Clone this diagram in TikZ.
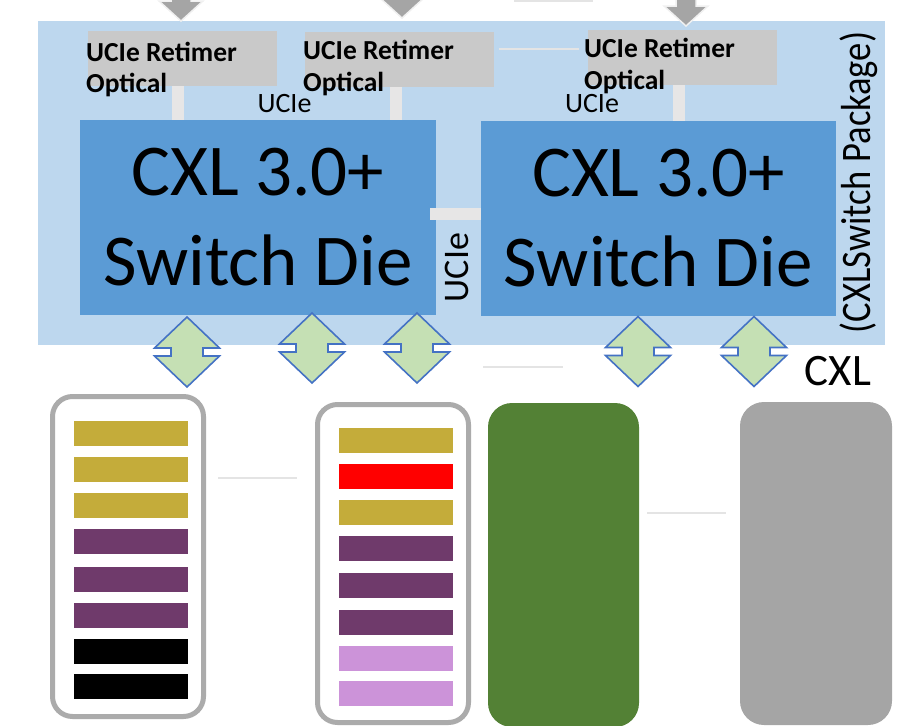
\documentclass[tikz,border=0pt]{standalone}
\usepackage{fontspec}
\usepackage{graphicx}
\setmainfont{Carlito}
\usetikzlibrary{calc}
\definecolor{pkgblue}{HTML}{BDD7EE}
\definecolor{dieblue}{HTML}{5B9BD5}
\definecolor{retgray}{HTML}{C9C9C9}
\definecolor{linkgray}{HTML}{E7E6E6}
\definecolor{arrgray}{HTML}{A5A5A5}
\definecolor{diafill}{HTML}{C5E0B4}
\definecolor{diaedge}{HTML}{4472C4}
\definecolor{gold}{HTML}{C4AC3A}
\definecolor{plum}{HTML}{6F3A6B}
\definecolor{lilac}{HTML}{CC93D9}
\definecolor{modedge}{HTML}{ABABAB}
\definecolor{leafgreen}{HTML}{538135}
\definecolor{slotgray}{HTML}{A5A5A5}
\definecolor{faintline}{HTML}{E4E4E4}
\begin{document}
\begin{tikzpicture}[x=1pt,y=-1pt,
  pkgbox/.style={fill=pkgblue, inner sep=0},
  retimer/.style={fill=retgray, inner sep=0, minimum width=189, minimum height=55},
  rtext/.style={inner sep=0, anchor=base west, font=\fontsize{27.5}{32}\selectfont\bfseries},
  die/.style={fill=dieblue, inner sep=0, minimum width=356, minimum height=195, align=center, font=\fontsize{73}{90}\selectfont},
  uconn/.style={draw=linkgray, line width=12},
  lbl/.style={inner sep=0, anchor=base, font=\fontsize{28}{32}\selectfont},
  faint/.style={draw=faintline, line width=1.5},
  bar/.style={inner sep=0, minimum width=114, minimum height=25},
  module/.style={draw=modedge, line width=5, fill=white, rounded corners=20, inner sep=0, minimum width=151},
  slab/.style={inner sep=0, rounded corners=24, minimum width=151},
  downarrow/.pic={\filldraw[fill=arrgray, draw=white!88!gray, line width=1.5]
     (-10,-45) -- (-10,-20) -- (-22,-20) -- (0,0) -- (22,-20) -- (10,-20) -- (10,-45) -- cycle;},
  updown/.pic={\filldraw[fill=diafill, draw=diaedge, line width=1.6, line join=miter]
     (0,-35) -- (32.5,-4) -- (16,-4) -- (16,4) -- (32.5,4) -- (0,35) -- (-32.5,4) -- (-16,4) -- (-16,-4) -- (-32.5,-4) -- cycle;}
]
\useasboundingbox (0,0) rectangle (919,726);
\clip (0,0) rectangle (919,726);

% package background
\node[pkgbox, minimum width=847, minimum height=324] (pkg) at (461.5,183) {};

% incoming arrows at top
\pic at (181,21) {downarrow};
\pic at (402,18) {downarrow};
\pic at (686,26) {downarrow};
\coordinate (t1a) at (514,0.8);
\coordinate (t1b) at (593,0.8);
\draw[faint] (t1a) -- (t1b);

% retimers
\node[retimer] (r1) at (182.5,58.5) {};
\node[retimer] (r2) at (399.5,59.5) {};
\node[retimer] (r3) at (682.5,57.5) {};
\coordinate (g1) at (499,49);
\coordinate (g2) at (579,49);
\draw[faint] (g1) -- (g2);

% dies
\node[die] (d1) at (258,217.5) {CXL 3.0+\\Switch Die};
\node[die, minimum width=355] (d2) at (658.5,218.5) {CXL 3.0+\\Switch Die};

% UCIe links retimer -> die
\coordinate (k1) at (178,100);
\coordinate (k2) at (396,100);
\coordinate (k3) at (679,100);
\draw[uconn] (k1 |- r1.south) -- (k1 |- d1.north);
\draw[uconn] (k2 |- r2.south) -- (k2 |- d1.north);
\draw[uconn] (k3 |- r3.south) -- (k3 |- d2.north);

% die-to-die UCIe link
\coordinate (hu) at (455,214);
\draw[uconn, shorten <=-6] (hu -| d1.east) -- (hu -| d2.west);

% retimer texts
\node[rtext] (r1a) at (86,61) {UCIe Retimer};
\node[rtext] (r1b) at (86,92.5) {Optical};
\node[rtext] (r2a) at (303,59) {UCIe Retimer};
\node[rtext] (r2b) at (303,91) {Optical};
\node[rtext] (r3a) at (584,57) {UCIe Retimer};
\node[rtext] (r3b) at (584,89) {Optical};

% UCIe labels
\node[lbl] (u1) at (284.5,112) {UCIe};
\node[lbl] (u2) at (592,112.5) {UCIe};
\node[inner sep=0, anchor=base, rotate=90, font=\fontsize{36}{40}\selectfont] (u3) at (468,267.5) {UCIe};
\node[inner sep=0, anchor=base, rotate=90] (pk) at (870,182.5)
  {\scalebox{0.87}[1]{\fontsize{42}{50}\selectfont (CXLSwitch Package)}};

% CXL links
\pic at (187,352) {updown};
\pic at (312,348) {updown};
\pic at (417,348) {updown};
\pic at (638,351.5) {updown};
\pic at (754,351.5) {updown};
\node[inner sep=0, anchor=base, font=\fontsize{45}{50}\selectfont] (cxl) at (838,385) {CXL};
\coordinate (h1) at (483,367);
\coordinate (h2) at (563,367);
\draw[faint] (h1) -- (h2);

% memory module 1
\node[module, minimum height=320] (m1) at (128,556.5) {};
\foreach \y/\c [count=\i] in {433.5/gold,469.5/gold,505.5/gold,541.5/plum,579.5/plum,615.5/plum,651.5/black,686.5/black}
  \node[bar, fill=\c] (ma\i) at (131,\y) {};
\coordinate (l1a) at (218,478);
\coordinate (l1b) at (297,478);
\draw[faint] (l1a) -- (l1b);

% memory module 2
\node[module, minimum height=318] (m2) at (393,563.5) {};
\foreach \y/\c [count=\i] in {440.5/gold,476.5/red,512.5/gold,548.5/plum,585.5/plum,622.5/plum,658.5/lilac,693.5/lilac}
  \node[bar, fill=\c] (mb\i) at (396,\y) {};

% green and gray devices
\node[slab, fill=leafgreen, minimum height=324] (gr) at (563.5,565) {};
\node[slab, fill=slotgray, minimum width=152, minimum height=323] (gy) at (816,563.5) {};
\coordinate (l2a) at (647,513);
\coordinate (l2b) at (726,513);
\draw[faint] (l2a) -- (l2b);
\end{tikzpicture}
\end{document}
